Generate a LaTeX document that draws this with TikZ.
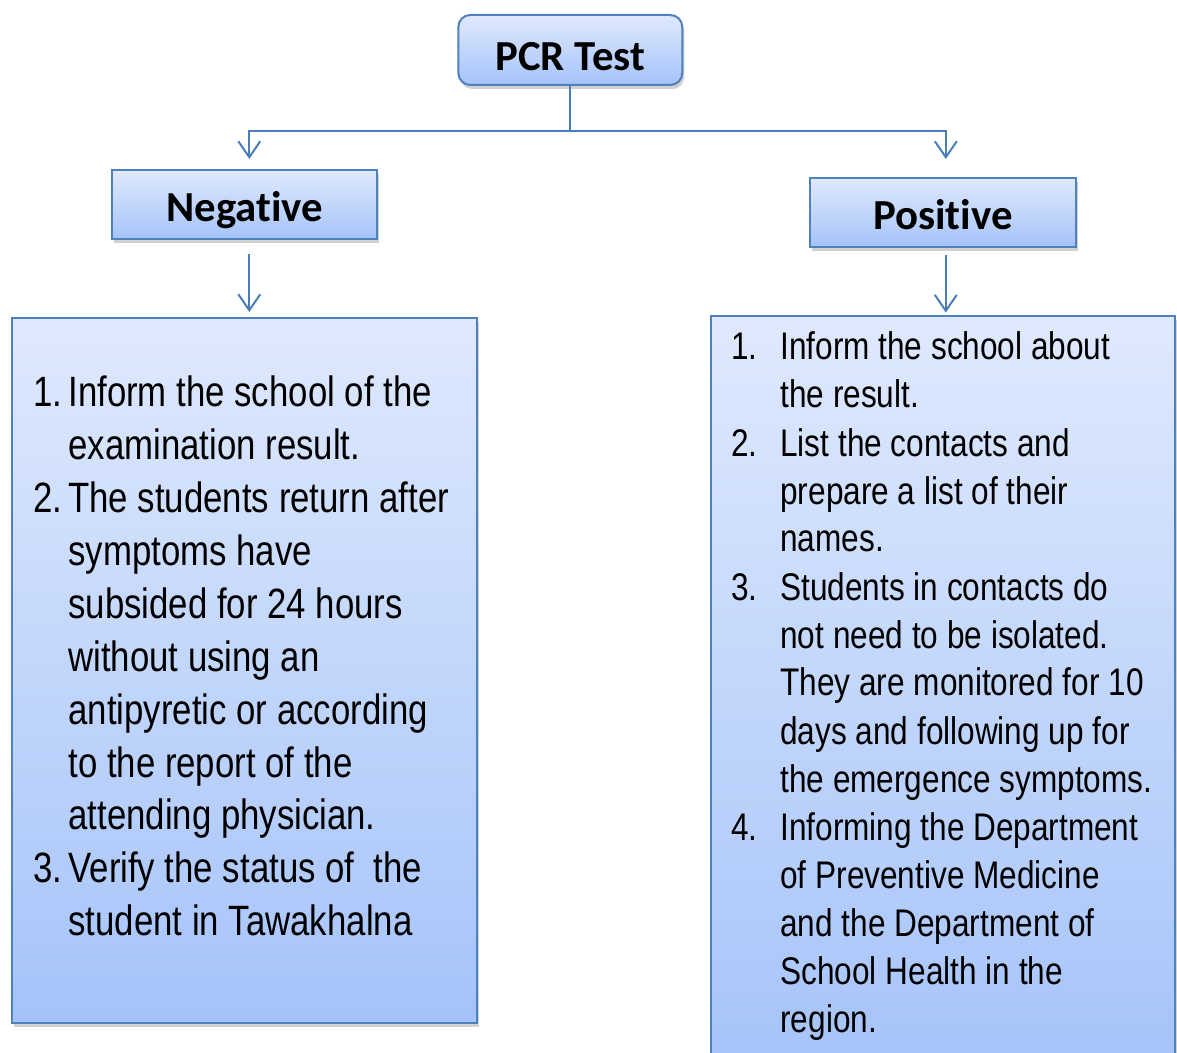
\documentclass[tikz,border=0pt]{standalone}
\usepackage{fontspec}
\setmainfont{Liberation Sans}[FakeStretch=0.82]
\newfontfamily\headfont{Carlito}[Ligatures=NoCommon]
\usepackage{xcolor}
\usepackage{tikz}
\usetikzlibrary{arrows.meta,positioning,shadows}
\definecolor{boxLine}{HTML}{4F81BD}
\definecolor{boxTop}{HTML}{DFE9FD}
\definecolor{boxBottom}{HTML}{A5C3F9}
\definecolor{linkBlue}{HTML}{4A7EBB}

\tikzset{
  flowbox/.style={draw=boxLine, line width=1pt, top color=boxTop, bottom color=boxBottom,
    drop shadow={shadow xshift=1pt, shadow yshift=-2pt, opacity=0.3, fill=black!60}},
  headbox/.style={flowbox, text height=17.5pt, text depth=0pt,
    font=\headfont\fontsize{21.4}{25}\selectfont\bfseries},
  link/.style={draw=linkBlue, line width=1pt, -{Straight Barb[length=8pt,width=11pt]}}
}

\begin{document}
\begin{tikzpicture}[x=0.5pt, y=-0.5pt]
  \useasboundingbox (0,0) rectangle (1177,1053);
  % headings
  \node[headbox, text height=21pt, rounded corners=6pt, minimum width=112pt, minimum height=35pt] (pcr) at (570.3,50) {PCR Test};
  \node[headbox, minimum width=132.5pt, minimum height=34.5pt] (neg) at (244.8,204.5) {Negative};
  \node[headbox, minimum width=132.8pt, minimum height=34.3pt] (pos) at (942.8,212.3) {Positive};
  % lists
  \node[flowbox, minimum width=232.6pt, minimum height=352.3pt, below=38.5pt of neg] (neglist) {};
  \node[flowbox, minimum width=232pt, minimum height=380pt, below=33.8pt of pos] (poslist) {};
  \node[anchor=base west, inner sep=0pt, font=\fontsize{21.2}{26.45}\selectfont] (negtext) at (33,406.7)
    {\begin{tabular}[t]{@{}p{17.5pt}@{}l@{}}
      1. & Inform the school of the\\
         & examination result.\\
      2. & The students return after\\
         & symptoms have\\
         & subsided for 24 hours\\
         & without using an\\
         & antipyretic or according\\
         & to the report of the\\
         & attending physician.\\
      3. & Verify the status of~ the\\
         & student in Tawakhalna
    \end{tabular}};
  \node[anchor=base west, inner sep=0pt, font=\fontsize{19.25}{24}\selectfont] (postext) at (731,360)
    {\begin{tabular}[t]{@{}p{24.5pt}@{}l@{}}
      1. & Inform the school about\\
         & the result.\\
      2. & List the contacts and\\
         & prepare a list of their\\
         & names.\\
      3. & Students in contacts do\\
         & not need to be isolated.\\
         & They are monitored for 10\\
         & days and following up for\\
         & the emergence symptoms.\\
      4. & Informing the Department\\
         & of Preventive Medicine\\
         & and the Department of\\
         & School Health in the\\
         & region.
    \end{tabular}};
  % connectors
  \draw[link, shorten >=5pt] (pcr.south) -- ++(0,45) -| ([xshift=2.25pt]neg.north);
  \draw[link, shorten >=9pt] (pcr.south) -- ++(0,45) -| ([xshift=1.5pt]pos.north);
  \draw[link, shorten <=7pt, shorten >=2.5pt] ([xshift=2.25pt]neg.south) -- ([xshift=2.25pt]neg.south |- neglist.north);
  \draw[link, shorten <=3.7pt, shorten >=1.3pt] ([xshift=1.5pt]pos.south) -- ([xshift=1.5pt]pos.south |- poslist.north);
\end{tikzpicture}
\end{document}
